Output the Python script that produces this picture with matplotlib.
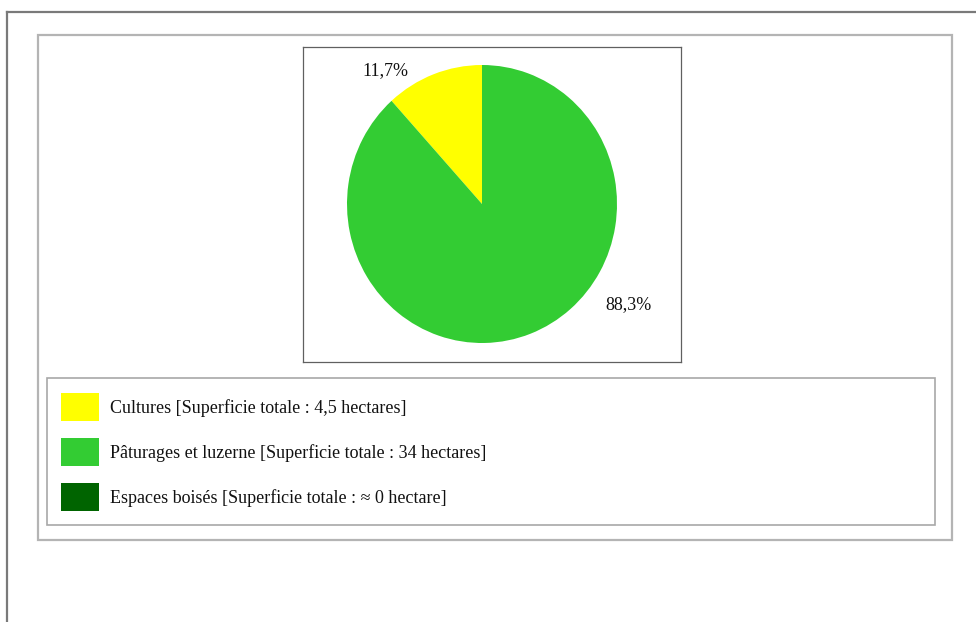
import matplotlib.pyplot as plt
from matplotlib.patches import Rectangle
import matplotlib.lines as mlines

# donnees
categories = ["Cultures", "Pâturages et luzerne", "Espaces boisés"]
surfaces = [4.5, 34, 0]
legend_labels = ["Cultures [Superficie totale : 4,5 hectares]",
                 "Pâturages et luzerne [Superficie totale : 34 hectares]",
                 "Espaces boisés [Superficie totale : ≈ 0 hectare]"]
couleurs = ["#ffff00", "#33cc33", "#006400"]

W, H = 976, 622
plt.rcParams['font.family'] = ['Liberation Serif', 'DejaVu Serif']

fig = plt.figure(figsize=(W / 100, H / 100), dpi=100)
fig.patch.set_facecolor("white")

def box(x0, y0, x1, y1, color, lw):
    # rectangle en pixels (origine en haut a gauche)
    r = Rectangle((x0 / W, 1 - y1 / H), (x1 - x0) / W, (y1 - y0) / H,
                  transform=fig.transFigure, fill=False, edgecolor=color, lw=lw)
    fig.add_artist(r)

# cadre exterieur (seulement haut et gauche visibles)
fig.add_artist(mlines.Line2D([7 / W, 7 / W], [0, 1 - 12 / H], color="#7a7a7a", lw=1.6,
                             transform=fig.transFigure))
fig.add_artist(mlines.Line2D([7 / W, 1], [1 - 12 / H, 1 - 12 / H], color="#7a7a7a", lw=1.6,
                             transform=fig.transFigure))
box(38, 35, 952, 540, "#b4b4b4", 1.6)
box(47, 378, 935, 525, "#a8a8a8", 1.2)

# axe du camembert = cadre du graphique
x0, y0, x1, y1 = 303, 47, 681, 362
sx = 139 / 135  # le disque est legerement ovale dans l'original
cx = 482
ax = fig.add_axes([x0 / W, 1 - y1 / H, (x1 - x0) / W, (y1 - y0) / H])
xl = (cx + (x0 - cx) * sx, cx + (x1 - cx) * sx)
for s in ax.spines.values():
    s.set_color("#606060")
    s.set_linewidth(0.9)

wedges, _ = ax.pie(surfaces, colors=couleurs, startangle=90, counterclock=True,
                   center=(cx, H - 204), radius=139, frame=True,
                   wedgeprops=dict(linewidth=0))
ax.set_xlim(*xl)
ax.set_ylim(H - y1, H - y0)
ax.set_aspect("auto")
ax.set_xticks([])
ax.set_yticks([])

total = sum(surfaces)
pct = [f"{100 * v / total:.1f}".replace(".", ",") + "%" for v in surfaces]
ax.text(cx + (385 - cx) * sx, H - 71, pct[0], ha="center", va="center",
        fontsize=13, color="#111111")
ax.text(cx + (628 - cx) * sx, H - 305, pct[1], ha="center", va="center",
        fontsize=13, color="#111111")

# legende
handles = [Rectangle((0, 0), 1, 1, facecolor=c, edgecolor="none") for c in couleurs]
fig.legend(handles, legend_labels, loc="upper left",
           bbox_to_anchor=(61 / W, 1 - 393 / H), frameon=False,
           fontsize=13, handlelength=2.1, handleheight=2.0,
           labelspacing=0.95, handletextpad=0.6, borderaxespad=0, borderpad=0,
           labelcolor="#111111")

fig.savefig("out.png", dpi=100, facecolor="white")
